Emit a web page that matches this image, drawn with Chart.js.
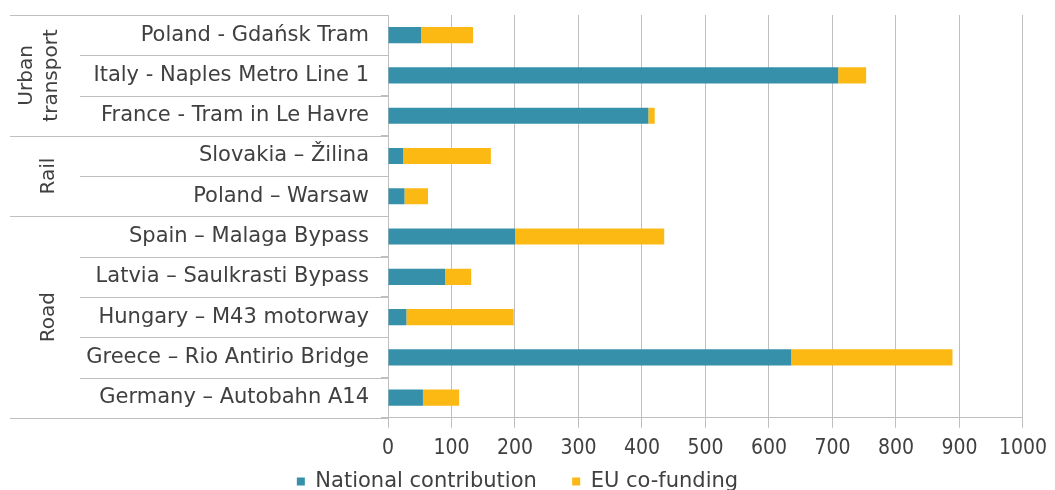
<!DOCTYPE html>
<html>
<head>
<meta charset="utf-8">
<script src="https://cdn.jsdelivr.net/npm/chart.js@4"></script>
<style>
  html, body { margin: 0; padding: 0; background: #fff; }
  #wrap { width: 1055px; height: 490px; }
</style>
</head>
<body>
<div id="wrap"><canvas id="barChart"></canvas></div>
<script>
// data (EUR million)
var projects = [
  "Poland - Gdańsk Tram",
  "Italy - Naples Metro Line 1",
  "France - Tram in Le Havre",
  "Slovakia – Žilina",
  "Poland – Warsaw",
  "Spain – Malaga Bypass",
  "Latvia – Saulkrasti Bypass",
  "Hungary – M43 motorway",
  "Greece – Rio Antirio Bridge",
  "Germany – Autobahn A14"
];
var national = [52, 709, 410, 24, 26, 200, 90, 29, 635, 55];
var euFunding = [82, 44, 10, 138, 37, 235, 41, 169, 254, 57];
var groupNames = [["Urban", "transport"], ["Rail"], ["Road"]];
var groupSizes = [3, 2, 5];
var xTicks = [0, 100, 200, 300, 400, 500, 600, 700, 800, 900, 1000];

var blue = '#3690AA';
var yellow = '#FDB913';
var lineGray = '#BFBFBF';
var textColor = '#404040';

// draws the category separators and the rotated group names left of the axis
var groupPlugin = {
  id: 'groups',
  afterDraw: function(chart) {
    var ctx = chart.ctx;
    var y = chart.scales.y;
    var left = chart.chartArea.left;
    var half = (y.getPixelForValue(1) - y.getPixelForValue(0)) / 2;
    ctx.save();
    ctx.strokeStyle = lineGray;
    ctx.lineWidth = 1;
    var idx = 0;
    var boundaries = [0];
    groupSizes.forEach(function(n) { idx += n; boundaries.push(idx); });
    for (var i = 0; i <= projects.length; i++) {
      var py = Math.round(y.getPixelForValue(i) - half) + 0.5;
      var isGroup = boundaries.indexOf(i) >= 0;
      ctx.beginPath();
      ctx.moveTo(isGroup ? 10 : 80, py);
      ctx.lineTo(left, py);
      ctx.stroke();
    }
    ctx.fillStyle = textColor;
    ctx.font = '20px "DejaVu Sans"';
    ctx.textAlign = 'center';
    ctx.textBaseline = 'middle';
    for (var g = 0; g < groupNames.length; g++) {
      var top = y.getPixelForValue(boundaries[g]) - half;
      var bot = y.getPixelForValue(boundaries[g + 1]) - half;
      var cy = (top + bot) / 2;
      var lines = groupNames[g];
      ctx.save();
      ctx.translate(lines.length > 1 ? 39 : 49, cy);
      ctx.rotate(-Math.PI / 2);
      lines.forEach(function(t, k) {
        ctx.fillText(t, 0, (k - (lines.length - 1) / 2) * 25);
      });
      ctx.restore();
    }
    ctx.restore();
  }
};

var ctx = document.getElementById('barChart').getContext('2d');
var barChart = new Chart(ctx, {
  type: 'bar',
  data: {
    labels: projects,
    datasets: [{
      label: 'National contribution',
      data: national,
      backgroundColor: blue,
      barPercentage: 0.4,
      categoryPercentage: 1
    }, {
      label: 'EU co-funding',
      data: euFunding,
      backgroundColor: yellow,
      barPercentage: 0.4,
      categoryPercentage: 1
    }]
  },
  options: {
    indexAxis: 'y',
    responsive: true,
    maintainAspectRatio: false,
    animation: false,
    layout: { padding: { left: 10, right: 30, top: 15, bottom: -12 } },
    plugins: {
      tooltip: { enabled: false },
      legend: {
        position: 'bottom',
        labels: {
          color: textColor,
          font: { family: 'DejaVu Sans', size: 21 },
          boxWidth: 8,
          boxHeight: 8,
          padding: 2,
          generateLabels: function(chart) {
            var items = Chart.defaults.plugins.legend.labels.generateLabels(chart);
            items[0].text = items[0].text + '     ';
            return items;
          }
        }
      }
    },
    scales: {
      x: {
        stacked: true,
        min: 0,
        max: 1000,
        afterBuildTicks: function(scale) {
          scale.ticks = xTicks.map(function(v) { return { value: v }; });
        },
        grid: { color: lineGray, tickLength: 10 },
        border: { color: lineGray },
        ticks: {
          color: textColor,
          font: { family: 'DejaVu Sans Condensed', size: 21 },
          padding: 8,
          callback: function(v) { return String(v); }
        }
      },
      y: {
        stacked: true,
        afterFit: function(scale) {
          scale.width = 378;
          scale.paddingTop = 0;
          scale.paddingBottom = 0;
        },
        grid: { drawOnChartArea: false, color: lineGray, tickLength: 7 },
        border: { color: lineGray },
        ticks: {
          color: textColor,
          font: { family: 'DejaVu Sans', size: 21 },
          padding: 12
        }
      }
    }
  },
  plugins: [groupPlugin]
});
</script>
</body>
</html>
